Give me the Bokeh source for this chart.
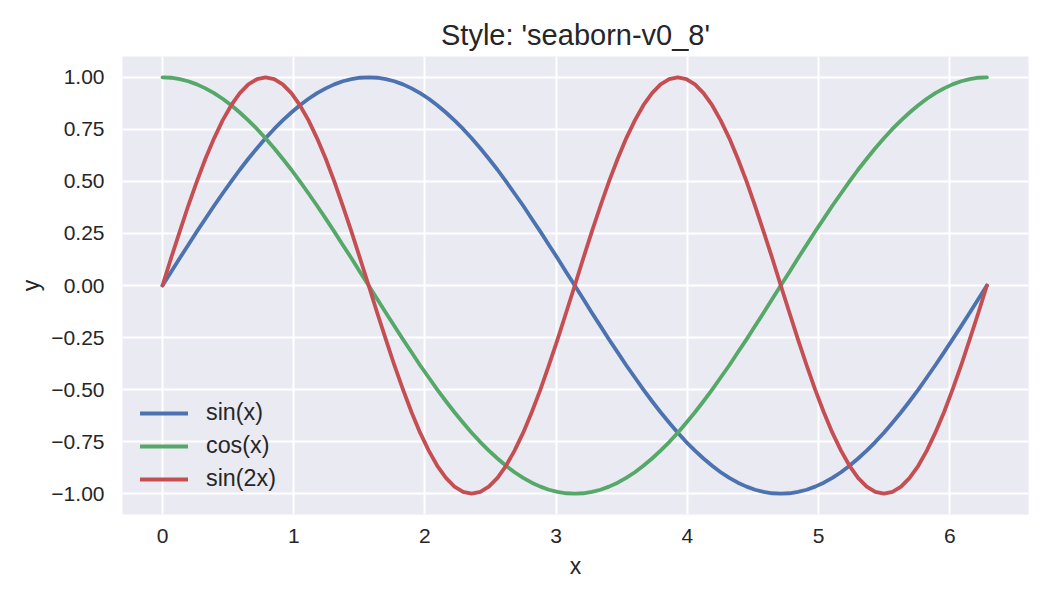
from bokeh.plotting import figure
from bokeh.models import FixedTicker, CustomJSTickFormatter, Range1d, Legend, LegendItem
from bokeh.embed import file_html
from bokeh.resources import INLINE

# x samples (0 .. 2*pi)
x_vals = [0.000, 0.065, 0.131, 0.196, 0.262, 0.327, 0.393, 0.458, 0.524, 0.589, 0.654, 0.720,
          0.785, 0.851, 0.916, 0.982, 1.047, 1.113, 1.178, 1.244, 1.309, 1.374, 1.440, 1.505,
          1.571, 1.636, 1.702, 1.767, 1.833, 1.898, 1.963, 2.029, 2.094, 2.160, 2.225, 2.291,
          2.356, 2.422, 2.487, 2.553, 2.618, 2.683, 2.749, 2.814, 2.880, 2.945, 3.011, 3.076,
          3.142, 3.207, 3.272, 3.338, 3.403, 3.469, 3.534, 3.600, 3.665, 3.731, 3.796, 3.862,
          3.927, 3.992, 4.058, 4.123, 4.189, 4.254, 4.320, 4.385, 4.451, 4.516, 4.581, 4.647,
          4.712, 4.778, 4.843, 4.909, 4.974, 5.040, 5.105, 5.171, 5.236, 5.301, 5.367, 5.432,
          5.498, 5.563, 5.629, 5.694, 5.760, 5.825, 5.890, 5.956, 6.021, 6.087, 6.152, 6.218,
          6.283]

sin_vals = [0.000, 0.065, 0.131, 0.195, 0.259, 0.321, 0.383, 0.442, 0.500, 0.556, 0.609, 0.659,
            0.707, 0.752, 0.793, 0.831, 0.866, 0.897, 0.924, 0.947, 0.966, 0.981, 0.991, 0.998,
            1.000, 0.998, 0.991, 0.981, 0.966, 0.947, 0.924, 0.897, 0.866, 0.831, 0.793, 0.752,
            0.707, 0.659, 0.609, 0.556, 0.500, 0.442, 0.383, 0.321, 0.259, 0.195, 0.131, 0.065,
            0.000, -0.065, -0.131, -0.195, -0.259, -0.321, -0.383, -0.442, -0.500, -0.556, -0.609, -0.659,
            -0.707, -0.752, -0.793, -0.831, -0.866, -0.897, -0.924, -0.947, -0.966, -0.981, -0.991, -0.998,
            -1.000, -0.998, -0.991, -0.981, -0.966, -0.947, -0.924, -0.897, -0.866, -0.831, -0.793, -0.752,
            -0.707, -0.659, -0.609, -0.556, -0.500, -0.442, -0.383, -0.321, -0.259, -0.195, -0.131, -0.065,
            0.000]

cos_vals = [1.000, 0.998, 0.991, 0.981, 0.966, 0.947, 0.924, 0.897, 0.866, 0.831, 0.793, 0.752,
            0.707, 0.659, 0.609, 0.556, 0.500, 0.442, 0.383, 0.321, 0.259, 0.195, 0.131, 0.065,
            0.000, -0.065, -0.131, -0.195, -0.259, -0.321, -0.383, -0.442, -0.500, -0.556, -0.609, -0.659,
            -0.707, -0.752, -0.793, -0.831, -0.866, -0.897, -0.924, -0.947, -0.966, -0.981, -0.991, -0.998,
            -1.000, -0.998, -0.991, -0.981, -0.966, -0.947, -0.924, -0.897, -0.866, -0.831, -0.793, -0.752,
            -0.707, -0.659, -0.609, -0.556, -0.500, -0.442, -0.383, -0.321, -0.259, -0.195, -0.131, -0.065,
            0.000, 0.065, 0.131, 0.195, 0.259, 0.321, 0.383, 0.442, 0.500, 0.556, 0.609, 0.659,
            0.707, 0.752, 0.793, 0.831, 0.866, 0.897, 0.924, 0.947, 0.966, 0.981, 0.991, 0.998,
            1.000]

sin2_vals = [0.000, 0.131, 0.259, 0.383, 0.500, 0.609, 0.707, 0.793, 0.866, 0.924, 0.966, 0.991,
             1.000, 0.991, 0.966, 0.924, 0.866, 0.793, 0.707, 0.609, 0.500, 0.383, 0.259, 0.131,
             0.000, -0.131, -0.259, -0.383, -0.500, -0.609, -0.707, -0.793, -0.866, -0.924, -0.966, -0.991,
             -1.000, -0.991, -0.966, -0.924, -0.866, -0.793, -0.707, -0.609, -0.500, -0.383, -0.259, -0.131,
             0.000, 0.131, 0.259, 0.383, 0.500, 0.609, 0.707, 0.793, 0.866, 0.924, 0.966, 0.991,
             1.000, 0.991, 0.966, 0.924, 0.866, 0.793, 0.707, 0.609, 0.500, 0.383, 0.259, 0.131,
             0.000, -0.131, -0.259, -0.383, -0.500, -0.609, -0.707, -0.793, -0.866, -0.924, -0.966, -0.991,
             -1.000, -0.991, -0.966, -0.924, -0.866, -0.793, -0.707, -0.609, -0.500, -0.383, -0.259, -0.131,
             0.000]

series_labels = ["sin(x)", "cos(x)", "sin(2x)"]
series_colors = ["#4C72B0", "#55A868", "#C44E52"]
x_ticks = [0, 1, 2, 3, 4, 5, 6]
y_ticks = [-1.0, -0.75, -0.5, -0.25, 0.0, 0.25, 0.5, 0.75, 1.0]

FONT = "Liberation Sans"
TXT = "#262626"

p = figure(frame_width=906, frame_height=458,
           min_border_left=122, min_border_right=14,
           min_border_top=56, min_border_bottom=70,
           output_backend="svg", toolbar_location=None,
           x_range=Range1d(-0.305, 6.600), y_range=Range1d(-1.1, 1.1),
           title="Style: 'seaborn-v0_8'")

p.background_fill_color = "#EAEAF2"
p.border_fill_color = "white"
p.outline_line_color = None

p.title.align = "center"
p.title.text_font = FONT
p.title.text_font_size = "29px"
p.title.text_font_style = "normal"
p.title.text_color = TXT
p.title.standoff = 12

for ax in (p.xaxis[0], p.yaxis[0]):
    ax.axis_line_color = None
    ax.major_tick_line_color = None
    ax.minor_tick_line_color = None
    ax.major_tick_out = 0
    ax.major_tick_in = 0
    ax.minor_tick_out = 0
    ax.minor_tick_in = 0
    ax.major_label_text_font = FONT
    ax.major_label_text_font_size = "21px"
    ax.major_label_text_color = TXT
    ax.axis_label_text_font = FONT
    ax.axis_label_text_font_size = "23px"
    ax.axis_label_text_font_style = "normal"
    ax.axis_label_text_color = TXT

p.xaxis.axis_label = "x"
p.yaxis.axis_label = "y"
p.xaxis.ticker = FixedTicker(ticks=x_ticks)
p.yaxis.ticker = FixedTicker(ticks=y_ticks)
p.xaxis.major_label_standoff = 14
p.yaxis.major_label_standoff = 18
p.xaxis.axis_label_standoff = 7
p.yaxis.axis_label_standoff = 4
p.xaxis.formatter = CustomJSTickFormatter(code="return tick.toFixed(0).replace('-', '\u2212');")
p.yaxis.formatter = CustomJSTickFormatter(code="return tick.toFixed(2).replace('-', '\u2212');")

p.xgrid.ticker = FixedTicker(ticks=x_ticks)
p.ygrid.ticker = FixedTicker(ticks=y_ticks)
p.grid.grid_line_color = "white"
p.grid.grid_line_width = 2

items = []
for ys, lab, col in zip([sin_vals, cos_vals, sin2_vals], series_labels, series_colors):
    r = p.line(x_vals, ys, line_color=col, line_width=3.8, line_cap="round", line_join="round")
    items.append(LegendItem(label=lab, renderers=[r]))

legend = Legend(items=items, location=(18, 22))
legend.border_line_color = None
legend.background_fill_alpha = 0
legend.padding = 0
legend.margin = 0
legend.spacing = 6
legend.glyph_width = 48
legend.glyph_height = 20
legend.label_height = 20
legend.label_standoff = 18
legend.label_text_font = FONT
legend.label_text_font_size = "23.3px"
legend.label_text_color = TXT
p.add_layout(legend, "center")

open("out.html", "w").write(file_html(p, INLINE))
